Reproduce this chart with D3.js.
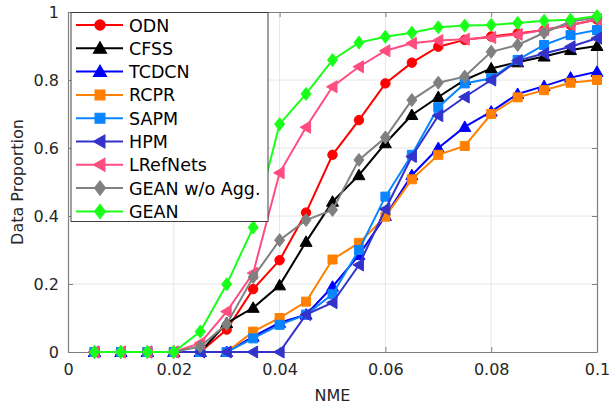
<!DOCTYPE html>
<html>
<head>
<meta charset="utf-8">
<script src="https://cdn.jsdelivr.net/npm/d3@7"></script>
<style>
  body { margin: 0; background: #fff; }
  text { font-family: "DejaVu Sans", sans-serif; }
</style>
</head>
<body>
<svg width="614" height="404"></svg>
<script>
// NME thresholds (x) and cumulative proportions per method
var nme = [0.005, 0.01, 0.015, 0.02, 0.025, 0.03, 0.035, 0.04, 0.045, 0.05,
           0.055, 0.06, 0.065, 0.07, 0.075, 0.08, 0.085, 0.09, 0.095, 0.1];

var odn      = [0, 0, 0, 0, 0.0, 0.066, 0.185, 0.27, 0.41, 0.58, 0.682, 0.79, 0.851, 0.898, 0.918, 0.928, 0.937, 0.947, 0.962, 0.978];
var cfss     = [0, 0, 0, 0, 0.0, 0.085, 0.13, 0.196, 0.324, 0.442, 0.52, 0.614, 0.697, 0.75, 0.80, 0.834, 0.852, 0.869, 0.888, 0.90];
var tcdcn    = [0, 0, 0, 0, 0, 0, 0.045, 0.086, 0.11, 0.192, 0.285, 0.40, 0.52, 0.60, 0.662, 0.707, 0.759, 0.782, 0.807, 0.824];
var rcpr     = [0, 0, 0, 0, 0, 0, 0.06, 0.10, 0.148, 0.272, 0.321, 0.398, 0.508, 0.58, 0.606, 0.70, 0.749, 0.77, 0.792, 0.80];
var sapm     = [0, 0, 0, 0, 0, 0, 0.04, 0.08, 0.11, 0.17, 0.30, 0.457, 0.58, 0.72, 0.79, 0.805, 0.859, 0.903, 0.932, 0.947];
var hpm      = [0, 0, 0, 0, 0, 0, 0, 0, 0.11, 0.145, 0.256, 0.42, 0.575, 0.695, 0.75, 0.80, 0.857, 0.878, 0.898, 0.923];
var lrefnets = [0, 0, 0, 0, 0.026, 0.119, 0.232, 0.527, 0.661, 0.78, 0.839, 0.886, 0.908, 0.916, 0.92, 0.925, 0.934, 0.948, 0.962, 0.978];
var geanNoAgg= [0, 0, 0, 0, 0.016, 0.082, 0.22, 0.329, 0.388, 0.418, 0.565, 0.631, 0.741, 0.792, 0.81, 0.883, 0.903, 0.939, 0.972, 0.984];
var gean     = [0, 0, 0, 0, 0.06, 0.199, 0.366, 0.67, 0.759, 0.859, 0.91, 0.927, 0.939, 0.955, 0.96, 0.962, 0.968, 0.974, 0.977, 0.988];

var xTicks = [0, 0.02, 0.04, 0.06, 0.08, 0.1];
var yTicks = [0, 0.2, 0.4, 0.6, 0.8, 1];

var series = [
  { name: "ODN",           values: odn,       color: "#ff0000", marker: "circle" },
  { name: "CFSS",          values: cfss,      color: "#000000", marker: "up" },
  { name: "TCDCN",         values: tcdcn,     color: "#0000ff", marker: "up" },
  { name: "RCPR",          values: rcpr,      color: "#ff8000", marker: "square" },
  { name: "SAPM",          values: sapm,      color: "#0a84ff", marker: "square" },
  { name: "HPM",           values: hpm,       color: "#3333cc", marker: "left" },
  { name: "LRefNets",      values: lrefnets,  color: "#ff4d80", marker: "left" },
  { name: "GEAN w/o Agg.", values: geanNoAgg, color: "#808080", marker: "diamond" },
  { name: "GEAN",          values: gean,      color: "#1aff1a", marker: "diamond" }
];

var svg = d3.select("svg");
var pLeft = 68, pRight = 597, pTop = 12, pBottom = 352;

var x = d3.scaleLinear().domain([0, 0.1]).range([pLeft, pRight]);
var y = d3.scaleLinear().domain([0, 1]).range([pBottom, pTop]);

var axisColor = "#808080", textColor = "#262626";

// grid
var grid = svg.append("g");
grid.selectAll("line.gx").data(xTicks.slice(1, -1)).enter().append("line")
  .attr("x1", d => x(d)).attr("x2", d => x(d)).attr("y1", pTop).attr("y2", pBottom)
  .attr("stroke", "#e6e6e6").attr("stroke-width", 1);
grid.selectAll("line.gy").data(yTicks.slice(1, -1)).enter().append("line")
  .attr("y1", d => y(d)).attr("y2", d => y(d)).attr("x1", pLeft).attr("x2", pRight)
  .attr("stroke", "#e6e6e6").attr("stroke-width", 1);

// axes (MATLAB style box, inward ticks)
var fmt = d => d === 0 ? "0" : d === 1 ? "1" : String(+d.toFixed(2));
var ax = svg.append("g").attr("transform", "translate(0," + pBottom + ")")
  .call(d3.axisBottom(x).tickValues(xTicks).tickFormat(fmt).tickSizeInner(-5).tickSizeOuter(0).tickPadding(12));
var ay = svg.append("g").attr("transform", "translate(" + pLeft + ",0)")
  .call(d3.axisLeft(y).tickValues(yTicks).tickFormat(fmt).tickSizeInner(-5).tickSizeOuter(0).tickPadding(9));
var at = svg.append("g").attr("transform", "translate(0," + pTop + ")")
  .call(d3.axisTop(x).tickValues(xTicks).tickFormat("").tickSizeInner(-5).tickSizeOuter(0));
var ar = svg.append("g").attr("transform", "translate(" + pRight + ",0)")
  .call(d3.axisRight(y).tickValues(yTicks).tickFormat("").tickSizeInner(-5).tickSizeOuter(0));
[ax, ay, at, ar].forEach(g => {
  g.select(".domain").attr("stroke", axisColor).attr("stroke-width", 1.2);
  g.selectAll(".tick line").attr("stroke", axisColor);
  g.selectAll(".tick text").attr("fill", textColor).style("font-size", "16px")
    .style("font-family", "DejaVu Sans, sans-serif");
});

svg.append("text").attr("x", (pLeft + pRight) / 2).attr("y", 401)
  .attr("text-anchor", "middle").attr("fill", textColor).style("font-size", "16px").text("NME");
svg.append("text").attr("transform", "translate(23," + (pTop + pBottom) / 2 + ") rotate(-90)")
  .attr("text-anchor", "middle").attr("fill", textColor).style("font-size", "16px").text("Data Proportion");

function markerPath(type) {
  if (type === "circle") return d3.symbol(d3.symbolCircle, 70)();
  if (type === "square") return "M-4.5,-4.5H4.5V4.5H-4.5Z";
  if (type === "up") return "M0,-6L6,4.5L-6,4.5Z";
  if (type === "left") return "M-6,0L4.5,-6L4.5,6Z";
  if (type === "diamond") return "M0,-6.5L5,0L0,6.5L-5,0Z";
  return "";
}

var line = d3.line().x((d, i) => x(nme[i])).y(d => y(d));

var plot = svg.append("g");
series.forEach(s => {
  var g = plot.append("g");
  g.append("path").datum(s.values).attr("d", line)
    .attr("fill", "none").attr("stroke", s.color).attr("stroke-width", 2);
  g.selectAll("path.m").data(s.values).enter().append("path")
    .attr("class", "m")
    .attr("transform", (d, i) => "translate(" + x(nme[i]) + "," + y(d) + ")")
    .attr("d", markerPath(s.marker))
    .attr("fill", s.color).attr("stroke", s.color).attr("stroke-width", 1);
});

// legend
var lg = svg.append("g");
lg.append("rect").attr("x", 71).attr("y", 12.5).attr("width", 197).attr("height", 209)
  .attr("fill", "#fff").attr("stroke", "#404040").attr("stroke-width", 1);
series.forEach((s, i) => {
  var yy = 25 + i * 23.3;
  lg.append("line").attr("x1", 76).attr("x2", 123).attr("y1", yy).attr("y2", yy)
    .attr("stroke", s.color).attr("stroke-width", 2);
  lg.append("path").attr("transform", "translate(100," + yy + ") scale(1.1)")
    .attr("d", markerPath(s.marker)).attr("fill", s.color).attr("stroke", s.color);
  lg.append("text").attr("x", 129).attr("y", yy + 6.5).attr("fill", "#000")
    .style("font-size", "17.5px").text(s.name);
});
</script>
</body>
</html>
